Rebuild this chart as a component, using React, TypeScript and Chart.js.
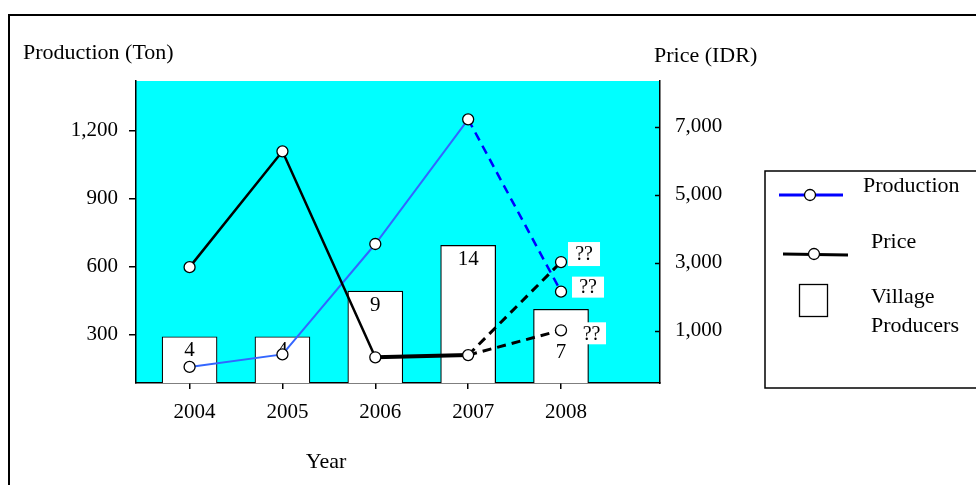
import React, { useEffect, useRef } from "react";
import { Chart, registerables } from "chart.js";

Chart.register(...registerables);

// ---- data ----
const years = ["2004", "2005", "2006", "2007", "2008"];
const production = [158, 213, 700, 1250, 490]; // Ton (left axis)
const price = [2870, 6280, 215, 280, 3020]; // IDR (right axis), 2008 = upper forecast
const priceLow = [null, null, null, 280, 1010]; // lower forecast for 2008
const villageProducers = [4, 4, 9, 14, 7];
const leftTicks = [300, 600, 900, 1200];
const rightTicks = [1000, 3000, 5000, 7000];
const unknownLabel = "??";

// ---- styles ----
const FONT = "'Liberation Serif', 'Times New Roman', serif";
const CYAN = "#00FFFF";
const BLUE_SOLID = "#3366FF";
const BLUE_DASH = "#0000FF";
const barAxisMin = -1.06;
const barAxisMax = 31.98;
const barLabelDrop = [14, 14, 14, 14, 43];

const toPts = (arr: (number | null)[]) => arr.map((v, i) => ({ x: i, y: v }));

const fmt = (v: number) => v.toLocaleString("en-US");

const decorPlugin = {
  id: "decor",
  beforeDraw(chart: any) {
    const { ctx, chartArea } = chart;
    ctx.save();
    ctx.fillStyle = CYAN;
    ctx.fillRect(chartArea.left, chartArea.top, chartArea.right - chartArea.left, chartArea.bottom - chartArea.top);
    ctx.restore();
  },
  afterDatasetDraw(chart: any, args: any) {
    if (args.index !== 0) return;
    const { ctx } = chart;
    const meta = chart.getDatasetMeta(0);
    ctx.save();
    ctx.font = `21px ${FONT}`;
    ctx.fillStyle = "#000";
    ctx.textAlign = "center";
    ctx.textBaseline = "middle";
    meta.data.forEach((el: any, i: number) => {
      ctx.fillText(String(villageProducers[i]), el.x, el.y + barLabelDrop[i]);
    });
    ctx.restore();
  },
  afterDatasetsDraw(chart: any) {
    const { ctx } = chart;
    const targets = [
      { ds: 2, dx: 7, dy: -20, w: 32, h: 24 },
      { ds: 3, dx: 11, dy: -15, w: 32, h: 21 },
      { ds: 1, dx: 16, dy: -8, w: 29, h: 22 },
    ];
    ctx.save();
    ctx.font = `20px ${FONT}`;
    ctx.textAlign = "center";
    ctx.textBaseline = "middle";
    targets.forEach((t) => {
      const el = chart.getDatasetMeta(t.ds).data[4];
      if (!el) return;
      const x = el.x + t.dx;
      const y = el.y + t.dy;
      ctx.fillStyle = "#fff";
      ctx.fillRect(x, y, t.w, t.h);
      ctx.fillStyle = "#000";
      ctx.fillText(unknownLabel, x + t.w / 2, y + t.h / 2 + 1);
    });
    ctx.restore();
  },
  afterDraw(chart: any) {
    const { ctx, chartArea, scales } = chart;
    ctx.save();
    ctx.strokeStyle = "#000";
    ctx.lineWidth = 1.5;
    rightTicks.forEach((v) => {
      const y = Math.round(scales.y1.getPixelForValue(v)) + 0.5;
      ctx.beginPath();
      ctx.moveTo(chartArea.right - 5, y);
      ctx.lineTo(chartArea.right, y);
      ctx.stroke();
    });

    ctx.lineWidth = 2;
    ctx.beginPath();
    ctx.moveTo(9, 490);
    ctx.lineTo(9, 15);
    ctx.lineTo(985, 15);
    ctx.stroke();

    ctx.fillStyle = "#000";
    ctx.font = `22px ${FONT}`;
    ctx.textBaseline = "middle";
    ctx.textAlign = "left";
    ctx.fillText("Production (Ton)", 23, 53);
    ctx.fillText("Price (IDR)", 654, 56);
    ctx.textAlign = "center";
    ctx.fillText("Year", 326, 462);

    ctx.lineWidth = 1.5;
    ctx.strokeRect(765, 171, 230, 217);

    ctx.strokeStyle = BLUE_DASH;
    ctx.lineWidth = 3;
    ctx.beginPath();
    ctx.moveTo(779, 195);
    ctx.lineTo(843, 195);
    ctx.stroke();
    ctx.fillStyle = "#fff";
    ctx.strokeStyle = "#000";
    ctx.lineWidth = 1.3;
    ctx.beginPath();
    ctx.arc(810, 195, 5.5, 0, Math.PI * 2);
    ctx.fill();
    ctx.stroke();

    ctx.strokeStyle = "#000";
    ctx.lineWidth = 3;
    ctx.beginPath();
    ctx.moveTo(783, 254);
    ctx.lineTo(848, 255);
    ctx.stroke();
    ctx.lineWidth = 1.3;
    ctx.beginPath();
    ctx.arc(814, 254, 5.5, 0, Math.PI * 2);
    ctx.fill();
    ctx.stroke();

    ctx.strokeRect(799.5, 284.5, 28, 32);

    ctx.fillStyle = "#000";
    ctx.textAlign = "left";
    ctx.font = `22px ${FONT}`;
    ctx.fillText("Production", 863, 186);
    ctx.fillText("Price", 871, 242);
    ctx.fillText("Village", 871, 297);
    ctx.fillText("Producers", 871, 326);
    ctx.restore();
  },
};

export default function App() {
  const ref = useRef<HTMLCanvasElement>(null);

  useEffect(() => {
    if (!ref.current) return;
    const chart = new Chart(ref.current, {
      type: "bar",
      data: {
        datasets: [
          {
            type: "bar",
            label: "Village Producers",
            data: toPts(villageProducers) as any,
            yAxisID: "yBar",
            backgroundColor: "#fff",
            borderColor: "#000",
            borderWidth: 1.2,
            barThickness: 55,
            base: barAxisMin,
            order: 10,
          } as any,
          {
            type: "line",
            label: "Price low",
            data: toPts(priceLow) as any,
            yAxisID: "y1",
            borderColor: "#000",
            borderWidth: 3,
            borderDash: [9, 6],
            pointRadius: (c: any) => (c.dataIndex === 4 ? 5.5 : 0),
            pointBackgroundColor: "#fff",
            pointBorderColor: "#000",
            pointBorderWidth: 1.3,
            order: 2,
          } as any,
          {
            type: "line",
            label: "Price",
            data: toPts(price) as any,
            yAxisID: "y1",
            borderColor: "#000",
            borderWidth: 2.5,
            pointRadius: 5.5,
            pointBackgroundColor: "#fff",
            pointBorderColor: "#000",
            pointBorderWidth: 1.3,
            segment: {
              borderDash: (c: any) => (c.p1DataIndex === 4 ? [9, 6] : undefined),
              borderWidth: (c: any) => (c.p0DataIndex === 2 ? 4 : c.p1DataIndex === 4 ? 3 : 2.5),
            },
            order: 1,
          } as any,
          {
            type: "line",
            label: "Production",
            data: toPts(production) as any,
            yAxisID: "y",
            borderColor: BLUE_SOLID,
            borderWidth: 2,
            pointRadius: 5.5,
            pointBackgroundColor: "#fff",
            pointBorderColor: "#000",
            pointBorderWidth: 1.3,
            segment: {
              borderDash: (c: any) => (c.p1DataIndex === 4 ? [9, 6] : undefined),
              borderColor: (c: any) => (c.p1DataIndex === 4 ? BLUE_DASH : BLUE_SOLID),
              borderWidth: (c: any) => (c.p1DataIndex === 4 ? 2.5 : 2),
            },
            order: 3,
          } as any,
        ],
      },
      options: {
        responsive: false,
        animation: false,
        devicePixelRatio: 1,
        layout: { padding: { top: 81, left: 0, right: 0, bottom: 0 } },
        plugins: { legend: { display: false }, tooltip: { enabled: false } },
        scales: {
          x: {
            type: "linear",
            offset: false,
            min: -0.577,
            max: 5.066,
            afterBuildTicks: (s: any) => {
              s.ticks = years.map((_, i) => ({ value: i }));
            },
            afterFit: (s: any) => {
              s.height = 102;
            },
            ticks: {
              callback: (v: any) => years[v] ?? "",
              font: { family: FONT, size: 21 },
              color: "#000",
              padding: 11,
              labelOffset: 5,
              maxRotation: 0,
              autoSkip: false,
            },
            grid: { offset: false, drawOnChartArea: false, tickLength: 6, color: "#000", lineWidth: 1.5 },
            border: { color: "#000", width: 1.5 },
          },
          y: {
            type: "linear",
            position: "left",
            min: 87,
            max: 1419,
            afterBuildTicks: (s: any) => {
              s.ticks = leftTicks.map((v) => ({ value: v }));
            },
            afterFit: (s: any) => {
              s.width = 136;
            },
            ticks: {
              callback: (v: any) => fmt(v),
              font: { family: FONT, size: 21 },
              color: "#000",
              padding: 11,
            },
            grid: { drawOnChartArea: false, tickLength: 7, color: "#000", lineWidth: 1.5 },
            border: { color: "#000", width: 1.5 },
          },
          y1: {
            type: "linear",
            position: "right",
            min: -542,
            max: 8351,
            afterBuildTicks: (s: any) => {
              s.ticks = rightTicks.map((v) => ({ value: v }));
            },
            afterFit: (s: any) => {
              s.width = 316;
            },
            ticks: {
              callback: (v: any) => fmt(v),
              font: { family: FONT, size: 21 },
              color: "#000",
              padding: 15,
            },
            grid: { drawOnChartArea: false, drawTicks: false, tickLength: 0 },
            border: { color: "#000", width: 1.5 },
          },
          yBar: {
            type: "linear",
            display: false,
            min: barAxisMin,
            max: barAxisMax,
          },
        },
      } as any,
      plugins: [decorPlugin],
    });
    return () => chart.destroy();
  }, []);

  return (
    <div style={{ position: "absolute", left: 0, top: 0, width: 976, height: 485, background: "#fff" }}>
      <canvas ref={ref} width={976} height={485} style={{ display: "block", width: 976, height: 485 }} />
    </div>
  );
}
